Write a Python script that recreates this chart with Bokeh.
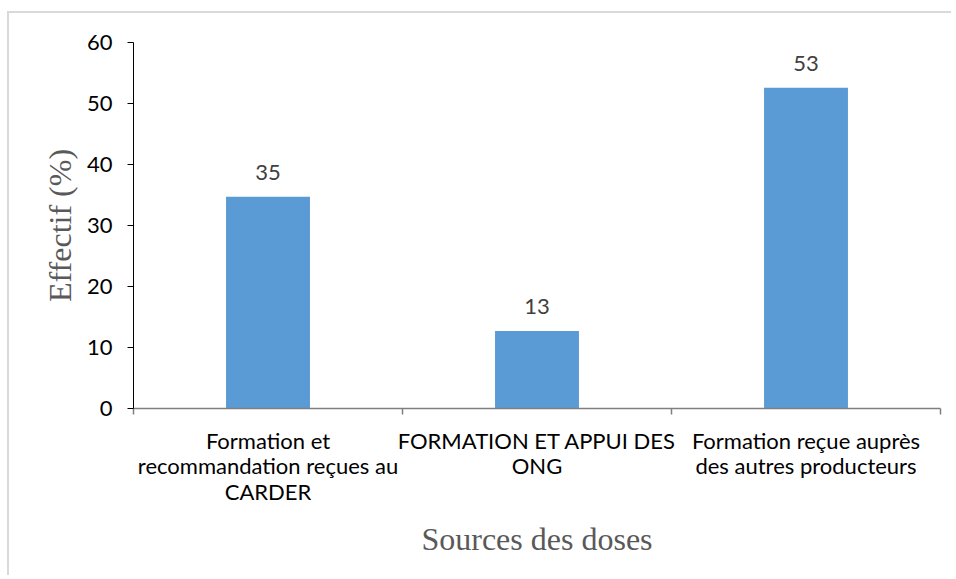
from bokeh.plotting import figure
from bokeh.models import ColumnDataSource, FixedTicker, Range1d
from bokeh.core.properties import value
from bokeh.embed import file_html
from bokeh.resources import INLINE

categories = ["Formation et\nrecommandation reçues au\nCARDER",
              "FORMATION ET APPUI DES\nONG",
              "Formation reçue auprès\ndes autres producteurs"]
values = [34.7, 12.7, 52.6]
value_labels = ["35", "13", "53"]
y_ticks = [0, 10, 20, 30, 40, 50, 60]

xs = [i + 0.5 for i in range(len(categories))]
src = ColumnDataSource(dict(x=xs, top=values, lab=value_labels))

p = figure(width=944, height=564, output_backend="svg", toolbar_location=None,
           x_range=Range1d(0, len(categories)), y_range=Range1d(0, 60),
           min_border_left=124, min_border_right=13, min_border_top=29, min_border_bottom=169)
p.margin = (13, 0, 0, 9)
p.styles = {"box-shadow": "-2px -2px 0px 0px #d9d9d9"}
p.outline_line_color = None
p.grid.grid_line_color = None
p.background_fill_color = "white"
p.border_fill_color = "white"

p.vbar(x="x", top="top", width=0.312, bottom=0, source=src,
       fill_color="#5B9BD5", line_color=None)
p.text(x="x", y="top", text="lab", source=src, text_align="center",
       text_baseline="bottom", y_offset=-17, text_font=value("Lato"),
       text_font_size="22px", text_color="#404040")

# x axis
xa = p.xaxis[0]
xa.ticker = FixedTicker(ticks=xs, minor_ticks=[0, 1, 2, 3])
xa.major_label_overrides = {x: c for x, c in zip(xs, categories)}
xa.major_tick_line_color = None
xa.minor_tick_in = 0
xa.minor_tick_out = 6
xa.minor_tick_line_color = "#7f7f7f"
xa.axis_line_color = "#7f7f7f"
xa.axis_line_width = 1.5
xa.minor_tick_line_width = 1.5
xa.major_label_text_font = "Lato"
xa.major_label_text_font_size = "22px"
xa.major_label_text_line_height = 0.95
xa.major_label_text_color = "#000000"
xa.major_label_standoff = 12
xa.axis_label = "Sources des doses"
xa.axis_label_text_font = "Liberation Serif"
xa.axis_label_text_font_style = "normal"
xa.axis_label_text_font_size = "32px"
xa.axis_label_text_color = "#595959"
xa.axis_label_standoff = 13

ya = p.yaxis[0]
ya.ticker = FixedTicker(ticks=y_ticks)
ya.minor_tick_line_color = None
ya.major_tick_in = 0
ya.major_tick_out = 6
ya.axis_line_color = "#000000"
ya.major_tick_line_color = "#000000"
ya.major_label_text_font = "Lato"
ya.major_label_text_font_size = "22px"
ya.major_label_text_color = "#000000"
ya.major_label_standoff = 15
ya.axis_label = "Effectif (%)"
ya.axis_label_text_font = "Liberation Serif"
ya.axis_label_text_font_style = "normal"
ya.axis_label_text_font_size = "32px"
ya.axis_label_text_color = "#595959"
ya.axis_label_standoff = 6

open("out.html", "w").write(file_html(p, INLINE))
